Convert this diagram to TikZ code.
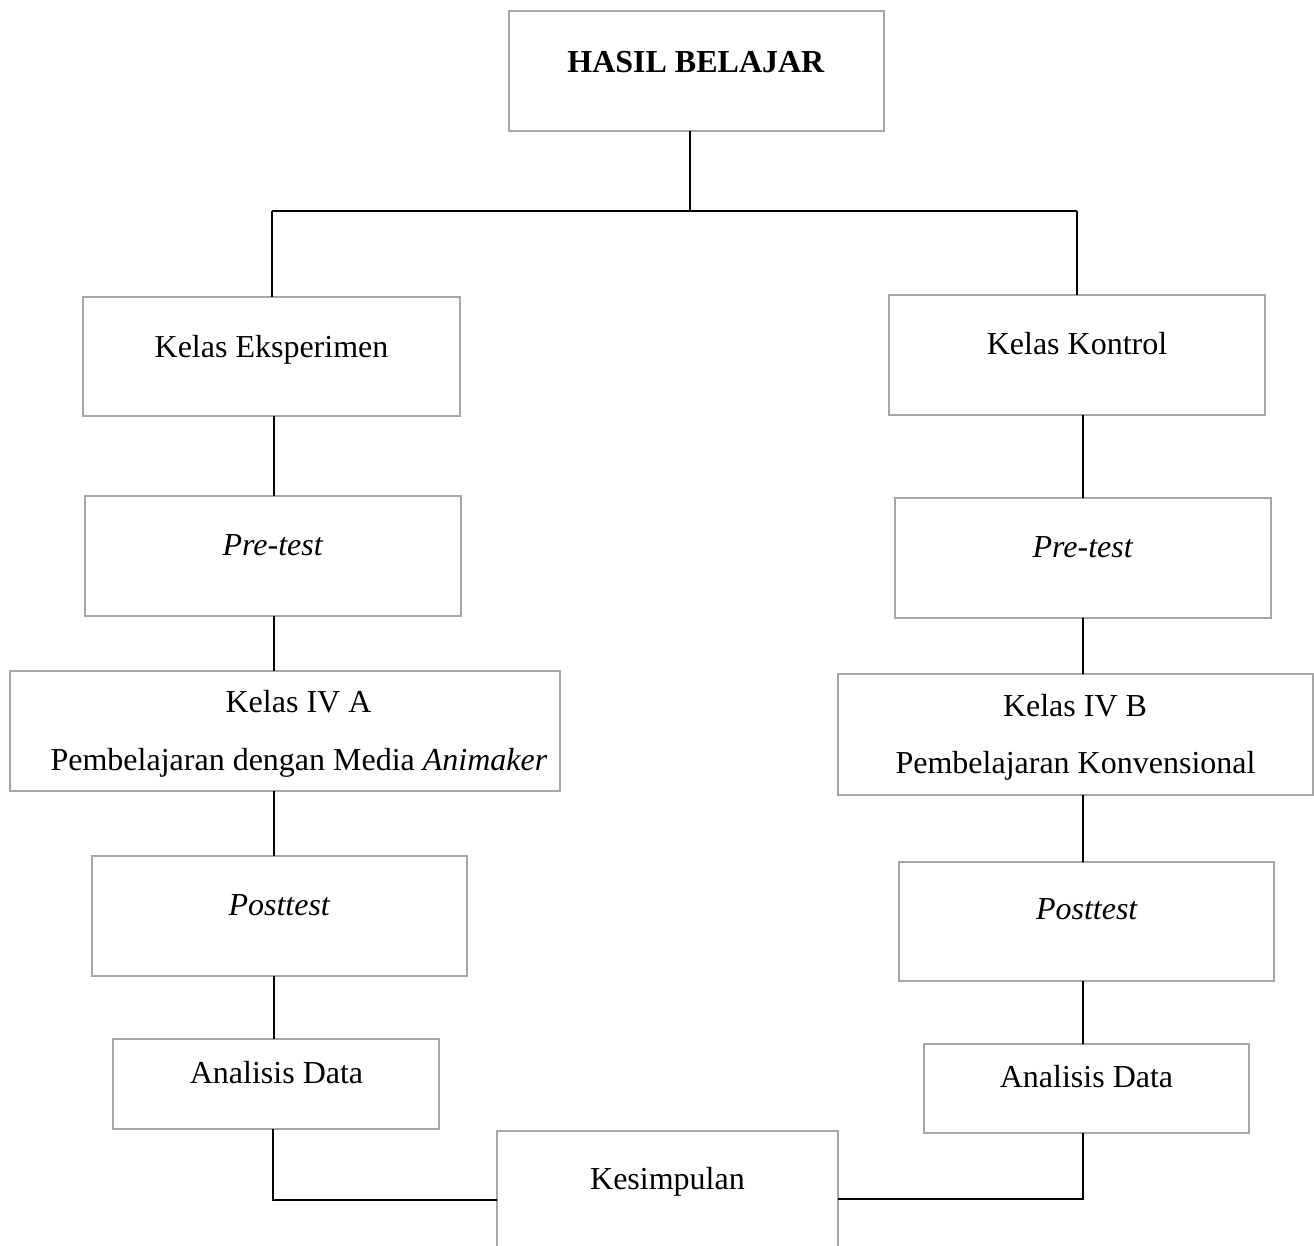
\documentclass[tikz,border=0pt]{standalone}
\usepackage{fontspec}
\setmainfont{Liberation Serif}
\definecolor{boxgray}{RGB}{166,166,166}
\begin{document}
\begin{tikzpicture}[x=1pt,y=-1pt,
  box/.style={draw=boxgray, line width=2pt, rectangle, inner sep=0pt, outer sep=0pt},
  lbl/.style={anchor=base, inner sep=0pt, font=\fontsize{32}{38}\selectfont},
  conn/.style={draw=black, line width=1.3pt}]
\useasboundingbox (0,0) rectangle (1314,1245);
% boxes
\node[box, minimum width=375pt, minimum height=120pt] (hb)  at (696.5,71) {};
\node[box, minimum width=377pt, minimum height=119pt] (ke)  at (271.5,356.5) {};
\node[box, minimum width=376pt, minimum height=120pt] (pl)  at (273,556) {};
\node[box, minimum width=550pt, minimum height=120pt] (ka)  at (285,731) {};
\node[box, minimum width=375pt, minimum height=120pt] (pol) at (279.5,916) {};
\node[box, minimum width=326pt, minimum height=90pt]  (adl) at (276,1084) {};
\node[box, minimum width=341pt, minimum height=129pt] (ks)  at (667.5,1195.5) {};
\node[box, minimum width=376pt, minimum height=120pt] (kk)  at (1077,355) {};
\node[box, minimum width=376pt, minimum height=120pt] (pr)  at (1083,558) {};
\node[box, minimum width=475pt, minimum height=121pt] (kb)  at (1075.5,734.5) {};
\node[box, minimum width=375pt, minimum height=119pt] (por) at (1086.5,921.5) {};
\node[box, minimum width=325pt, minimum height=89pt]  (adr) at (1086.5,1088.5) {};
% texts
\node[lbl] (hbT)  at (696,72) {\textbf{HASIL BELAJAR}};
\node[lbl] (keT)  at (271.5,357) {Kelas Eksperimen};
\node[lbl] (plT)  at (273,555) {\textit{Pre-test}};
\node[lbl] (kaT1) at (298.5,712) {Kelas IV A};
\node[lbl] (kaT2) at (299,770) {Pembelajaran dengan Media \textit{Animaker}};
\node[lbl] (polT) at (279.5,915) {\textit{Posttest}};
\node[lbl] (adlT) at (276.5,1083) {Analisis Data};
\node[lbl] (ksT)  at (667.5,1189) {Kesimpulan};
\node[lbl] (kkT)  at (1077,354) {Kelas Kontrol};
\node[lbl] (prT)  at (1083,557) {\textit{Pre-test}};
\node[lbl] (kbT1) at (1075,716) {Kelas IV B};
\node[lbl] (kbT2) at (1075.5,773) {Pembelajaran Konvensional};
\node[lbl] (porT) at (1087,919) {\textit{Posttest}};
\node[lbl] (adrT) at (1086.5,1087) {Analisis Data};
% connector helper coordinates
\coordinate (jt) at (690,211);
\coordinate (jl) at (272,211);
\coordinate (jr) at (1077,211);
\coordinate (cl) at (274,0);
\coordinate (cr) at (1083,0);
\coordinate (bl) at (273,1200);
\coordinate (br) at (1083,1199);
% connectors
\draw[conn] (hb.south -| jt) -- (jt);
\draw[conn] (jl) -- (jr);
\draw[conn] (jl) -- (jl |- ke.north);
\draw[conn] (jr) -- (jr |- kk.north);
\draw[conn] (ke.south -| cl) -- (pl.north -| cl);
\draw[conn] (pl.south -| cl) -- (ka.north -| cl);
\draw[conn] (ka.south -| cl) -- (pol.north -| cl);
\draw[conn] (pol.south -| cl) -- (adl.north -| cl);
\draw[conn] (adl.south -| bl) -- (bl) -- (bl -| ks.west);
\draw[conn] (kk.south -| cr) -- (pr.north -| cr);
\draw[conn] (pr.south -| cr) -- (kb.north -| cr);
\draw[conn] (kb.south -| cr) -- (por.north -| cr);
\draw[conn] (por.south -| cr) -- (adr.north -| cr);
\draw[conn] (adr.south -| br) -- (br) -- (br -| ks.east);
\end{tikzpicture}
\end{document}
